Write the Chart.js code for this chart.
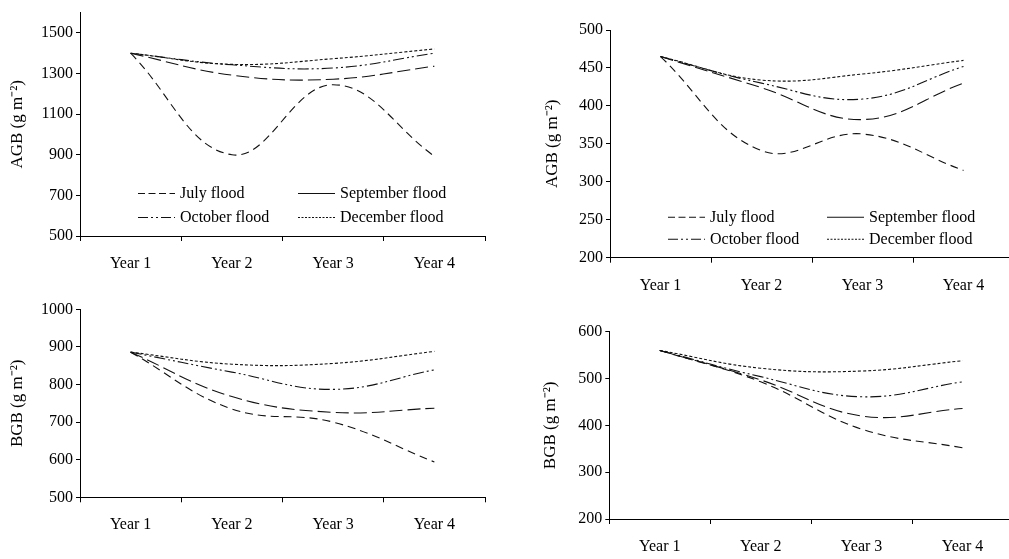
<!DOCTYPE html>
<html><head><meta charset="utf-8">
<script src="https://cdn.jsdelivr.net/npm/chart.js@4.4.1/dist/chart.umd.min.js"></script>
<style>
html,body{margin:0;padding:0;background:#fff;overflow:hidden;width:1009px;height:559px;}
canvas{position:absolute;display:block;}
</style></head><body>
<canvas id="c1" width="500" height="280" style="left:0;top:0"></canvas>
<canvas id="c2" width="520" height="300" style="left:500px;top:0"></canvas>
<canvas id="c3" width="500" height="279" style="left:0;top:280px"></canvas>
<canvas id="c4" width="520" height="279" style="left:500px;top:280px"></canvas>
<script>
const years = ['Year 1','Year 2','Year 3','Year 4'];
const seriesNames = ['July flood','September flood','October flood','December flood'];

const agbA_july = [1400, 900, 1245, 893];
const agbA_sept = [1400, 1292, 1272, 1336];
const agbA_oct  = [1400, 1343, 1327, 1400];
const agbA_dec  = [1400, 1345, 1373, 1421];

const agbB_july = [465, 341, 363, 315];
const agbB_sept = [465, 424, 382, 430];
const agbB_oct  = [465, 430, 409, 452];
const agbB_dec  = [465, 434, 442, 460];

const bgbA_july = [886, 735, 700, 594];
const bgbA_sept = [886, 768, 726, 737];
const bgbA_oct  = [886, 833, 787, 839];
const bgbA_dec  = [886, 854, 856, 888];

const bgbB_july = [560, 493, 392, 352];
const bgbB_sept = [560, 497, 420, 436];
const bgbB_oct  = [560, 504, 461, 493];
const bgbB_dec  = [560, 522, 516, 538];

const ticksAgbA = [500, 700, 900, 1100, 1300, 1500];
const ticksAgbB = [200, 250, 300, 350, 400, 450, 500];
const ticksBgbA = [500, 600, 700, 800, 900, 1000];
const ticksBgbB = [200, 300, 400, 500, 600];

const FONT = '"Liberation Serif", "Times New Roman", serif';
Chart.defaults.font.family = FONT;
Chart.defaults.color = '#000';

const lineDash   = [[8,5],[13,5],[11,3,2,3,2,3],[3,2]];
const legendDash = [[7,3.5],[],[10,3,2,3,2,3],[2,1.5]];

const legendPlugin = {
  id: 'floodLegend',
  afterDatasetsDraw(chart, args, opts) {
    if (!opts || !opts.show) return;
    const {ctx, chartArea} = chart;
    ctx.save();
    ctx.font = '16px ' + FONT;
    ctx.fillStyle = '#000';
    ctx.textBaseline = 'middle';
    chart.data.datasets.forEach((ds, i) => {
      const col = i % 2, row = Math.floor(i / 2);
      const x0 = chartArea.left + opts.cols[col];
      const y = chartArea.bottom + opts.rows[row];
      ctx.beginPath();
      ctx.setLineDash(legendDash[i]);
      ctx.lineWidth = 1.1;
      ctx.strokeStyle = '#111';
      ctx.moveTo(x0, y + 0.5); ctx.lineTo(x0 + opts.lineLen, y + 0.5);
      ctx.stroke();
      ctx.setLineDash([]);
      ctx.fillText(ds.label, x0 + opts.lineLen + 5, y + 1);
    });
    ctx.restore();
  }
};

function makeChart(id, series, yMin, yMax, tickVals, title, lay, legend) {
  const datasets = series.map((vals, i) => ({
    label: seriesNames[i],
    data: vals,
    borderColor: '#111',
    borderWidth: 1.1,
    borderDash: lineDash[i],
    pointRadius: 0,
    fill: false,
    tension: 0.4
  }));
  return new Chart(document.getElementById(id), {
    type: 'line',
    data: { labels: years, datasets },
    plugins: [legendPlugin],
    options: {
      responsive: false,
      animation: false,
      layout: { padding: { left: lay.padL, top: lay.padT, right: lay.padR, bottom: 0 } },
      plugins: {
        legend: { display: false },
        tooltip: { enabled: false },
        floodLegend: legend
      },
      scales: {
        x: {
          type: 'category',
          offset: true,
          grid: { display: true, offset: true, drawOnChartArea: false, drawTicks: true, tickLength: 5, color: '#000' },
          border: { display: true, color: '#000', width: 1 },
          ticks: { font: { size: 16, family: FONT }, color: '#000', padding: 13, maxRotation: 0 },
          afterFit(s) { s.height = lay.xH; }
        },
        y: {
          min: yMin, max: yMax,
          grid: { display: true, drawOnChartArea: false, drawTicks: true, tickLength: 4, color: '#000' },
          border: { display: true, color: '#000', width: 1 },
          ticks: { font: { size: 16, family: FONT }, color: '#000', padding: 3, callback: v => String(v) },
          afterBuildTicks(s) { s.ticks = tickVals.map(v => ({ value: v })); },
          afterFit(s) { s.width = lay.yW; },
          title: { display: true, text: title, font: { size: 17, family: FONT }, color: '#000', padding: { top: lay.tPad, bottom: 0 } }
        }
      }
    }
  });
}

makeChart('c1', [agbA_july, agbA_sept, agbA_oct, agbA_dec], 500, 1600, ticksAgbA, 'AGB (g m⁻²)',
  { padL: 0, yW: 80, padT: 8, padR: 15, xH: 44, tPad: 7 },
  { show: true, cols: [58, 218], rows: [-43, -19], lineLen: 37 });

makeChart('c2', [agbB_july, agbB_sept, agbB_oct, agbB_dec], 200, 500, ticksAgbB, 'AGB (g m⁻²)',
  { padL: 40, yW: 70, padT: 30, padR: 6, xH: 42.3, tPad: 2 },
  { show: true, cols: [58, 217], rows: [-41, -19], lineLen: 37 });

makeChart('c3', [bgbA_july, bgbA_sept, bgbA_oct, bgbA_dec], 500, 1000, ticksBgbA, 'BGB (g m⁻²)',
  { padL: 0, yW: 80, padT: 29.3, padR: 15, xH: 61.7, tPad: 7 },
  { show: false });

makeChart('c4', [bgbB_july, bgbB_sept, bgbB_oct, bgbB_dec], 200, 600, ticksBgbB, 'BGB (g m⁻²)',
  { padL: 38, yW: 71.3, padT: 51.7, padR: 7, xH: 40, tPad: 2 },
  { show: false });
</script>
</body></html>
